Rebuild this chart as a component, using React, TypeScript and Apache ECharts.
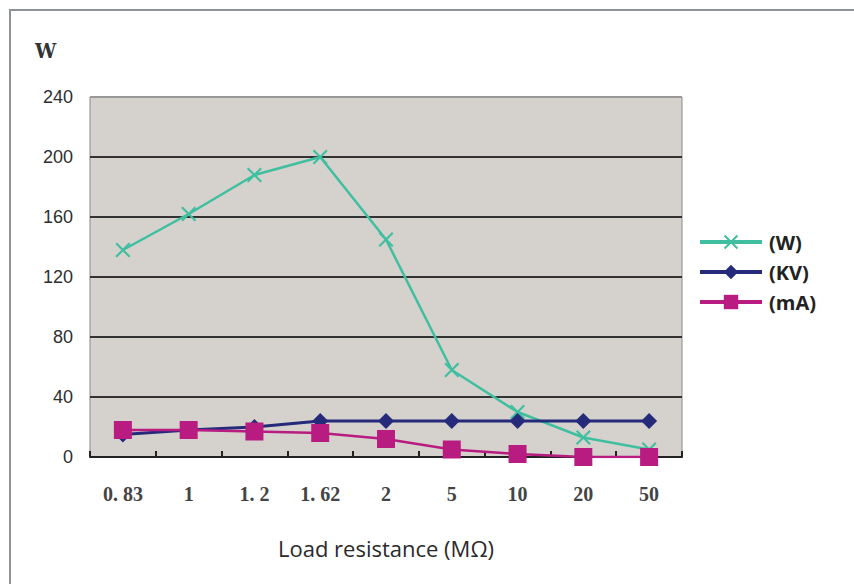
import React, { useEffect, useRef } from "react";
import * as echarts from "echarts";

const categories = ["0. 83", "1", "1. 2", "1. 62", "2", "5", "10", "20", "50"];
const wValues = [138, 162, 188, 200, 145, 58, 30, 13, 5];
const kvValues = [15, 18, 20, 24, 24, 24, 24, 24, 24];
const maValues = [18, 18, 17, 16, 12, 5, 2, 0, 0];
const yTicks = [0, 40, 80, 120, 160, 200, 240];

const crossPath =
  "path://M2,0 L10,8 L18,0 L20,2 L12,10 L20,18 L18,20 L10,12 L2,20 L0,18 L8,10 L0,2 Z";

export default function App() {
  const ref = useRef<HTMLDivElement>(null);
  useEffect(() => {
    if (!ref.current) return;
    const chart = echarts.init(ref.current, null, { renderer: "svg" });
    chart.setOption({
      animation: false,
      backgroundColor: "#ffffff",
      grid: {
        left: 90,
        right: 172,
        top: 97,
        bottom: 127,
        show: true,
        backgroundColor: "#d5d1cc",
        borderColor: "#8a8a8a",
        borderWidth: 1,
      },
      graphic: [
        {
          type: "rect",
          shape: { x: 10, y: 10, width: 900, height: 620 },
          style: { fill: "none", stroke: "#8c9296", lineWidth: 2 },
          silent: true,
        },
        {
          type: "text",
          left: 35,
          top: 40,
          style: {
            text: "W",
            font: "bold 21px 'DejaVu Serif Condensed', 'DejaVu Serif', serif",
            fill: "#333",
          },
        },
      ],
      legend: {
        orient: "vertical",
        left: 693,
        top: 227,
        itemWidth: 62,
        itemHeight: 18,
        itemGap: 10,
        lineStyle: { width: 4 },
        textStyle: {
          fontFamily: "'Open Sans', sans-serif",
          fontWeight: "bold",
          fontSize: 20,
          color: "#222",
          padding: [0, 0, 0, 2],
        },
        data: ["(W)", "(KV)", "(mA)"],
      },
      xAxis: {
        type: "category",
        data: categories,
        boundaryGap: true,
        name: "Load resistance (MΩ)",
        nameLocation: "middle",
        nameGap: 80,
        nameTextStyle: {
          fontFamily: "'Open Sans', sans-serif",
          fontSize: 22,
          color: "#2a2a2a",
        },
        axisLine: { show: true, lineStyle: { color: "#222", width: 2 } },
        axisTick: { show: true, inside: true, length: 6, lineStyle: { color: "#222", width: 2 } },
        axisLabel: {
          margin: 27,
          fontFamily: "'Liberation Serif', serif",
          fontWeight: "bold",
          fontSize: 20,
          color: "#444",
        },
      },
      yAxis: {
        type: "value",
        min: 0,
        max: 240,
        interval: 40,
        axisLine: { show: false },
        axisTick: { show: false },
        axisLabel: {
          margin: 17,
          fontFamily: "'Liberation Sans', Arial, sans-serif",
          fontSize: 18,
          color: "#2e2e2e",
          formatter: (v: number) => (yTicks.includes(v) ? String(v) : ""),
        },
        splitLine: {
          show: true,
          lineStyle: {
            color: ["#222", "#333", "#333", "#333", "#333", "#333", "#999"],
            width: 2,
          },
        },
      },
      series: [
        {
          name: "(W)",
          type: "line",
          data: wValues,
          symbol: crossPath,
          symbolSize: 15,
          lineStyle: { color: "#3fbfa0", width: 2.5 },
          itemStyle: { color: "#3fbfa0" },
          z: 3,
        },
        {
          name: "(KV)",
          type: "line",
          data: kvValues,
          symbol: "diamond",
          symbolSize: 16,
          lineStyle: { color: "#252a7a", width: 3 },
          itemStyle: { color: "#252a7a" },
          z: 4,
        },
        {
          name: "(mA)",
          type: "line",
          data: maValues,
          symbol: "rect",
          symbolSize: 18,
          lineStyle: { color: "#b81c80", width: 2.5 },
          itemStyle: { color: "#b81c80" },
          z: 5,
        },
      ],
    });
    return () => chart.dispose();
  }, []);
  return (
    <div
      ref={ref}
      style={{ position: "fixed", left: 0, top: 0, width: 854, height: 584 }}
    />
  );
}
